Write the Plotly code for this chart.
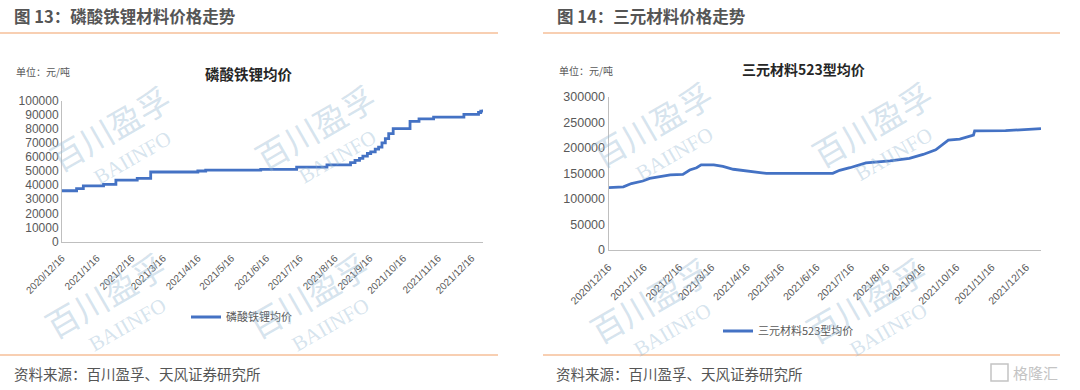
import plotly.graph_objects as go

# ---------------- data ----------------
tick_dates = ["2020-12-16", "2021-01-16", "2021-02-16", "2021-03-16", "2021-04-16",
              "2021-05-16", "2021-06-16", "2021-07-16", "2021-08-16", "2021-09-16",
              "2021-10-16", "2021-11-16", "2021-12-16"]
tick_labels = ["2020/12/16", "2021/1/16", "2021/2/16", "2021/3/16", "2021/4/16",
               "2021/5/16", "2021/6/16", "2021/7/16", "2021/8/16", "2021/9/16",
               "2021/10/16", "2021/11/16", "2021/12/16"]

lfp_dates = ["2020-12-16", "2020-12-29", "2021-01-04", "2021-01-22", "2021-02-02",
             "2021-02-21", "2021-03-05", "2021-04-16", "2021-04-23", "2021-06-11",
             "2021-07-13", "2021-08-09", "2021-08-30", "2021-09-03", "2021-09-07",
             "2021-09-10", "2021-09-14", "2021-09-17", "2021-09-21", "2021-09-24",
             "2021-09-27", "2021-09-30", "2021-10-03", "2021-10-07", "2021-10-22",
             "2021-10-30", "2021-11-12", "2021-12-09", "2021-12-22", "2021-12-24",
             "2021-12-26"]
lfp_values = [36000, 37500, 39500, 40500, 43500,
              44800, 49300, 50000, 50600, 51200,
              52800, 54300, 56000, 57500, 59000,
              60500, 62400, 63500, 65500, 67000,
              70000, 73000, 76500, 80000, 85200,
              87000, 88200, 90100, 91500, 92500,
              93600]

ncm_dates = ["2020-12-16", "2020-12-29", "2021-01-05", "2021-01-15", "2021-01-21",
             "2021-01-30", "2021-02-08", "2021-02-19", "2021-02-25", "2021-03-03",
             "2021-03-07", "2021-03-18", "2021-03-26", "2021-04-04", "2021-04-19",
             "2021-05-03", "2021-06-30", "2021-07-06", "2021-07-15", "2021-07-29",
             "2021-08-19", "2021-09-05", "2021-09-17", "2021-09-28", "2021-10-09",
             "2021-10-19", "2021-10-31", "2021-11-01", "2021-11-28", "2021-12-14",
             "2021-12-29"]
ncm_values = [122000, 123500, 130000, 135000, 140000,
              143500, 147000, 148000, 156500, 161000,
              166500, 166500, 163500, 158000, 153500,
              150000, 150000, 156000, 161000, 170500,
              174500, 179500, 187000, 196000, 215000,
              217000, 225000, 233000, 233500, 235000,
              237500]

W, H = 1080, 390
def px(x):
    return x / W
def py(y):
    return 1 - y / H

BLUE = "#4472c4"
GRAY_TXT = "#595959"
AX = "#bfbfbf"
ORANGE = "#f6bf98"
NUM_FONT = "Liberation Sans, Arial, sans-serif"
CJK_FONT = "Noto Sans CJK SC, sans-serif"

fig = go.Figure()
fig.add_trace(go.Scatter(x=lfp_dates, y=lfp_values, mode="lines", name="磷酸铁锂均价",
                         line=dict(color=BLUE, width=2.8, shape="hv"),
                         xaxis="x", yaxis="y", legend="legend"))
fig.add_trace(go.Scatter(x=ncm_dates, y=ncm_values, mode="lines", name="三元材料523型均价",
                         line=dict(color=BLUE, width=2.8),
                         xaxis="x2", yaxis="y2", legend="legend2"))

xcommon = dict(type="date", tickmode="array", tickvals=tick_dates, ticktext=tick_labels,
               tickangle=-45, showgrid=False, zeroline=False, showline=True,
               linecolor=AX, linewidth=1, ticks="outside", ticklen=6,
               tickcolor="rgba(0,0,0,0)", fixedrange=True, automargin=False)
ycommon = dict(showgrid=False, zeroline=False, showline=True, linecolor=AX, linewidth=1,
               ticks="", tickformat="d", fixedrange=True, automargin=False)

fig.update_layout(
    template="none",
    width=W, height=H, autosize=False,
    margin=dict(l=0, r=0, t=0, b=0, pad=0),
    paper_bgcolor="white", plot_bgcolor="white",
    xaxis=dict(xcommon, domain=[px(62), px(483)], range=["2020-12-16", "2021-12-26"],
               anchor="y", tickfont=dict(family=NUM_FONT, size=10, color=GRAY_TXT)),
    yaxis=dict(ycommon, domain=[py(241.5), py(100.5)], range=[0, 100000], dtick=10000,
               anchor="x", tickfont=dict(family=NUM_FONT, size=12, color=GRAY_TXT)),
    xaxis2=dict(xcommon, domain=[px(608.5), px(1041)], range=["2020-12-16", "2021-12-29"],
                anchor="y2", tickfont=dict(family=NUM_FONT, size=10.5, color=GRAY_TXT)),
    yaxis2=dict(ycommon, domain=[py(250), py(96.7)], range=[0, 300000], dtick=50000,
                anchor="x2", tickfont=dict(family=NUM_FONT, size=12.5, color=GRAY_TXT)),
    legend=dict(x=px(186), y=py(317), xanchor="left", yanchor="middle",
                font=dict(family=CJK_FONT, size=11, color=GRAY_TXT),
                bgcolor="rgba(0,0,0,0)"),
    legend2=dict(x=px(718), y=py(331), xanchor="left", yanchor="middle",
                 font=dict(family=CJK_FONT, size=11, color=GRAY_TXT),
                 bgcolor="rgba(0,0,0,0)"),
    showlegend=True,
)

ann = []
shapes = []

# watermarks
WM = "rgba(150,185,210,0.40)"
for cx, cy in [(110, 128), (315, 127), (105, 295), (308, 295),
               (652, 124), (872, 124), (650, 300), (866, 300)]:
    ann.append(dict(x=px(cx), y=py(cy), xref="paper", yref="paper", text="百川盈孚",
                    xanchor="center", yanchor="middle", showarrow=False, textangle=-30,
                    font=dict(family=CJK_FONT, size=33, color=WM)))
    ann.append(dict(x=px(cx + 22), y=py(cy + 30), xref="paper", yref="paper",
                    text="BAIINFO", xanchor="center", yanchor="middle",
                    showarrow=False, textangle=-30,
                    font=dict(family="Liberation Serif, serif", size=21, color=WM)))

# page titles
ann.append(dict(x=px(12), y=py(16), xref="paper", yref="paper", xanchor="left", yanchor="middle",
                text="<b>图 13：磷酸铁锂材料价格走势</b>", showarrow=False,
                font=dict(family=CJK_FONT, size=16.5, color="#555555")))
ann.append(dict(x=px(555), y=py(16), xref="paper", yref="paper", xanchor="left", yanchor="middle",
                text="<b>图 14：三元材料价格走势</b>", showarrow=False,
                font=dict(family=CJK_FONT, size=16.5, color="#555555")))

# chart titles
ann.append(dict(x=px(249), y=py(73), xref="paper", yref="paper", xanchor="center", yanchor="middle",
                text="<b>磷酸铁锂均价</b>", showarrow=False,
                font=dict(family=CJK_FONT, size=14.5, color="#262626")))
ann.append(dict(x=px(803), y=py(69), xref="paper", yref="paper", xanchor="center", yanchor="middle",
                text="<b>三元材料523型均价</b>", showarrow=False,
                font=dict(family=CJK_FONT, size=14, color="#262626")))

# unit labels
ann.append(dict(x=px(14), y=py(71), xref="paper", yref="paper", xanchor="left", yanchor="middle",
                text="单位：元/吨", showarrow=False,
                font=dict(family=CJK_FONT, size=10, color=GRAY_TXT)))
ann.append(dict(x=px(557), y=py(70), xref="paper", yref="paper", xanchor="left", yanchor="middle",
                text="单位：元/吨", showarrow=False,
                font=dict(family=CJK_FONT, size=10, color=GRAY_TXT)))

# sources
for sx in (12, 554):
    ann.append(dict(x=px(sx), y=py(373), xref="paper", yref="paper", xanchor="left", yanchor="middle",
                    text="资料来源：百川盈孚、天风证券研究所", showarrow=False,
                    font=dict(family=CJK_FONT, size=14.5, color="#555555")))

# logo
ann.append(dict(x=px(1011), y=py(372), xref="paper", yref="paper", xanchor="left", yanchor="middle",
                text="格隆汇", showarrow=False,
                font=dict(family=CJK_FONT, size=15, color="#c4c4c4")))
shapes.append(dict(type="rect", xref="paper", yref="paper", x0=px(991), x1=px(1008),
                   y0=py(381), y1=py(364), line=dict(color="#c4c4c4", width=1.5)))

# orange rules
for x0, x1 in ((0, 498), (543, 1060)):
    for yy in (33, 355):
        shapes.append(dict(type="line", xref="paper", yref="paper", x0=px(x0), x1=px(x1),
                           y0=py(yy), y1=py(yy), line=dict(color=ORANGE, width=1.6)))

fig.update_layout(annotations=ann, shapes=shapes)

fig.write_html("out.html", post_script="document.body.style.margin='0';",
               config={"displayModeBar": False})
